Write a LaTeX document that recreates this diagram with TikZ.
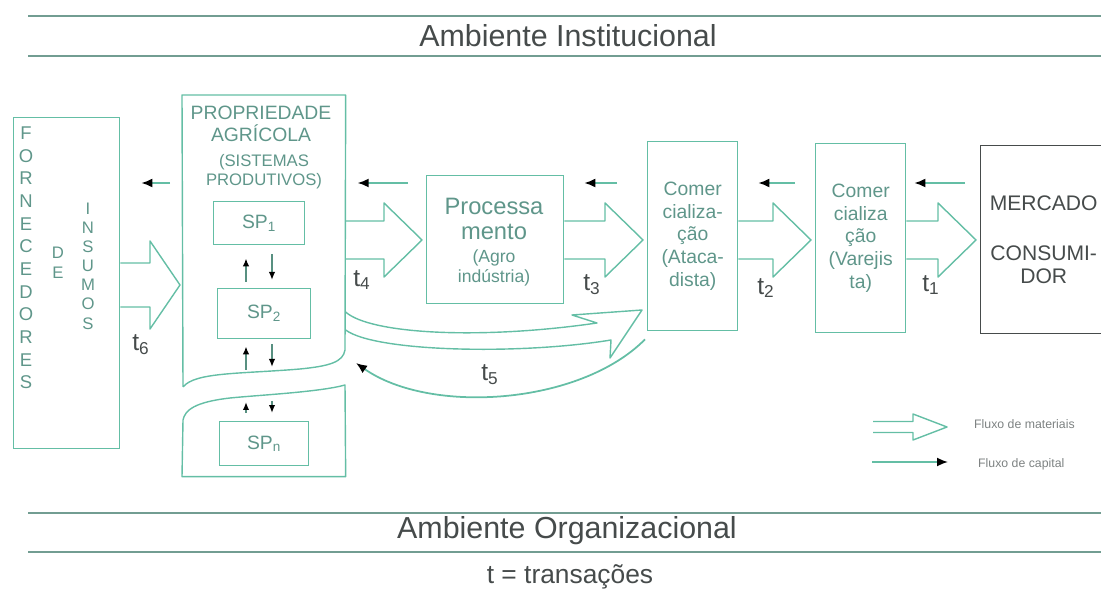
\documentclass[tikz,border=0pt]{standalone}
\usepackage{fontspec}
\setmainfont{Liberation Sans}
\usetikzlibrary{arrows.meta,calc}

\definecolor{tealline}{RGB}{100,190,165}
\definecolor{tealtext}{RGB}{95,150,138}
\definecolor{darktext}{RGB}{70,75,75}
\definecolor{greyline}{RGB}{125,130,130}

% fat arrow (fluxo de materiais): start, tip, shaft half, head half, head length
\newcommand{\matarrow}[5]{%
  \draw[matflow] ($(#1)+(0,-#3)$) -| ($(#2)+(-#5,-#4)$) -- (#2)
    -- ($(#2)+(-#5,#4)$) |- ($(#1)+(0,#3)$);}

\begin{document}
\begin{tikzpicture}[x=0.02cm,y=-0.02cm]
    \tikzstyle{every node}=[font=\fontsize{11}{12.9}\selectfont, text=tealtext]
    \tikzstyle{box}=[draw=tealline, line width=0.8pt, inner sep=0pt, align=center]
    \tikzstyle{matflow}=[draw=tealline, line width=0.8pt, line join=round]
    \tikzstyle{capflow}=[draw=tealline, line width=1pt, -{Latex[black,length=2.2mm,width=1.8mm]}]
    \tikzstyle{capsmall}=[draw=tealline!60!darktext, line width=0.9pt, -{Latex[black,length=1.6mm,width=1.3mm]}]
    \tikzstyle{rule}=[draw=tealline!45!greyline, line width=1.3pt]
    \tikzstyle{title}=[font=\fontsize{17.3}{20}\selectfont, text=darktext]
    \tikzstyle{tlbl}=[font=\fontsize{14}{16}\selectfont, text=darktext]
    \tikzstyle{legend}=[font=\fontsize{7}{8}\selectfont, text=greyline]

    \useasboundingbox (0,0) rectangle (1101,590);

    % ambientes
    \draw[rule] (28,16) -- (1101,16);
    \draw[rule] (28,56) -- (1101,56);
    \node[title] (inst) at (568,36) {Ambiente Institucional};
    \draw[rule] (28,513) -- (1101,513);
    \draw[rule] (28,552) -- (1101,552);
    \node[title] (org) at (567,531) {Ambiente Organizacional};
    \node[font=\fontsize{15}{18}\selectfont, text=darktext] (trans) at (570,577) {t = transações};

    % fornecedores
    \node[box, anchor=north west, minimum width=2.12cm, minimum height=6.62cm] (forn) at (13,117) {};
    \node[font=\fontsize{10.5}{12.9}\selectfont, align=center] (fornlbl) at (26,258) {F\\O\\R\\N\\E\\C\\E\\D\\O\\R\\E\\S};
    \node[font=\fontsize{9.5}{11.3}\selectfont, align=center] (delbl) at (58,263) {D\\E};
    \node[font=\fontsize{9.5}{10.9}\selectfont, align=center] (insumos) at (88,266) {I\\N\\S\\U\\M\\O\\S};

    % propriedade agricola
    \node[anchor=north west, minimum width=3.26cm, minimum height=7.62cm, inner sep=0pt] (prop) at (182,95) {};
    \draw[matflow] (183,387) -- (prop.north west) -- (prop.north east) -- (345,350)
        .. controls (343,362) and (330,366) .. (300,369)
        .. controls (240,374) and (195,372) .. (183,387);
    \draw[matflow] (345,385) .. controls (320,392) and (260,395) .. (230,398)
        .. controls (195,402) and (185,410) .. (183,420)
        -- (prop.south west) -- (prop.south east) -- cycle;
    \node[align=center] (proptit) at (261,124) {PROPRIEDADE\\AGRÍCOLA};
    \node[align=center, font=\fontsize{9.5}{10.8}\selectfont] (propsub) at (264,172) {(SISTEMAS\\PRODUTIVOS)};

    \node[box, anchor=north west, minimum width=1.82cm, minimum height=0.86cm] (sp1) at (213,201) {SP\textsubscript{1}};
    \node[box, anchor=north west, minimum width=1.86cm, minimum height=1.0cm] (sp2) at (217,288) {SP\textsubscript{2}};
    \node[box, anchor=north west, minimum width=1.78cm, minimum height=0.88cm] (spn) at (219,421) {SP\textsubscript{n}};

    \coordinate (up) at (246,0);
    \coordinate (dn) at (272,0);
    \coordinate (wave1) at (0,372);
    \coordinate (wave2) at (0,400);
    \draw[capsmall, shorten <=0.12cm, shorten >=0.26cm] (up |- sp2.north) -- (up |- sp1.south);
    \draw[capsmall, shorten <=0.18cm, shorten >=0.16cm] (dn |- sp1.south) -- (dn |- sp2.north);
    \draw[capsmall, shorten <=0.04cm, shorten >=0.14cm] (up |- wave1) -- (up |- sp2.south);
    \draw[capsmall, shorten <=0.1cm, shorten >=0.1cm] (dn |- sp2.south) -- (dn |- wave1);
    \draw[capsmall, shorten <=0.16cm, shorten >=0.04cm] (up |- spn.north) -- (up |- wave2);
    \draw[capsmall, shorten <=0.02cm, shorten >=0.16cm] (dn |- wave2) -- (dn |- spn.north);

    % elos da cadeia
    \node[box, anchor=north west, minimum width=2.74cm, minimum height=2.56cm] (proc) at (426,175) {};
    \node[font=\fontsize{13.5}{14.7}\selectfont, align=center] (proctxt) at (494,219) {Processa\\mento};
    \node[font=\fontsize{10}{11.9}\selectfont, align=center] (procsub) at (494,268) {(Agro\\indústria)};
    \node[box, anchor=north west, minimum width=1.8cm, minimum height=3.78cm] (com1) at (647,141) {Comer\\cializa-\\ção\\(Ataca-\\dista)};
    \node[box, anchor=north west, minimum width=1.8cm, minimum height=3.78cm] (com2) at (815,143) {Comer\\cializa\\ção\\(Varejis\\ta)};
    \node[box, draw=darktext, text=darktext, font=\fontsize{12}{13}\selectfont, anchor=north west,
          minimum width=2.52cm, minimum height=3.76cm] (merc) at (980,145) {MERCADO\\[0.54cm]CONSUMI-\\DOR};

    % fluxo de capital
    \coordinate (caprow) at (0,183);
    \foreach \a/\b/\s/\e in {prop/forn/0.24/0.42, proc/prop/0.36/0.24, com1/proc/0.6/0.4,
                             com2/com1/0.4/0.4, merc/com2/0.3/0.16}
        \draw[capflow, shorten <=\s cm, shorten >=\e cm] (\a.west |- caprow) -- (\b.east |- caprow);

    % fluxo de materiais
    \coordinate (matrow) at (0,240);
    \foreach \a/\b in {prop/proc, proc/com1, com1/com2, com2/merc} {
        \coordinate (ms) at (\a.east |- matrow);
        \coordinate (mt) at ($(\b.west |- matrow)+(-4,0)$);
        \matarrow{ms}{mt}{19}{37}{38}
    }
    \coordinate (fs) at (forn.east |- 0,285);
    \coordinate (ft) at ($(prop.west |- 0,285)+(-2,0)$);
    \matarrow{fs}{ft}{22}{44}{30}

    % t5
    \draw[matflow] (prop.east |- 0,312) .. controls (370,334) and (480,340) .. (597,323)
        -- (572,315) -- ($(com1.west |- 0,310)+(-5,0)$) -- (610,358) -- (611,340)
        .. controls (520,355) and (375,352) .. (prop.east |- 0,330);
    \coordinate (c5end) at (356,363);
    \draw[capflow] ([shift={(-2,8)}]com1.south west) .. controls (580,405) and (430,415) .. (c5end);

    % transacoes
    \node[tlbl] (t6) at (141,345) {t\textsubscript{6}};
    \node[tlbl] (t4) at (362,280) {t\textsubscript{4}};
    \node[tlbl] (t3) at (592,285) {t\textsubscript{3}};
    \node[tlbl] (t2) at (766,288) {t\textsubscript{2}};
    \node[tlbl] (t1) at (931,285) {t\textsubscript{1}};
    \node[tlbl] (t5) at (490,375) {t\textsubscript{5}};

    % legenda
    \coordinate (lgs) at (873,427);
    \coordinate (lgt) at (947,427);
    \matarrow{lgs}{lgt}{5.5}{13}{34}
    \node[legend, anchor=west] (lgmat) at (968,424) {Fluxo de materiais};
    \coordinate (lcs) at (872,462);
    \coordinate (lce) at (948,462);
    \draw[capflow] (lcs) -- (lce);
    \node[legend, anchor=west] (lgcap) at (972,464) {Fluxo de capital};

\end{tikzpicture}
\end{document}
